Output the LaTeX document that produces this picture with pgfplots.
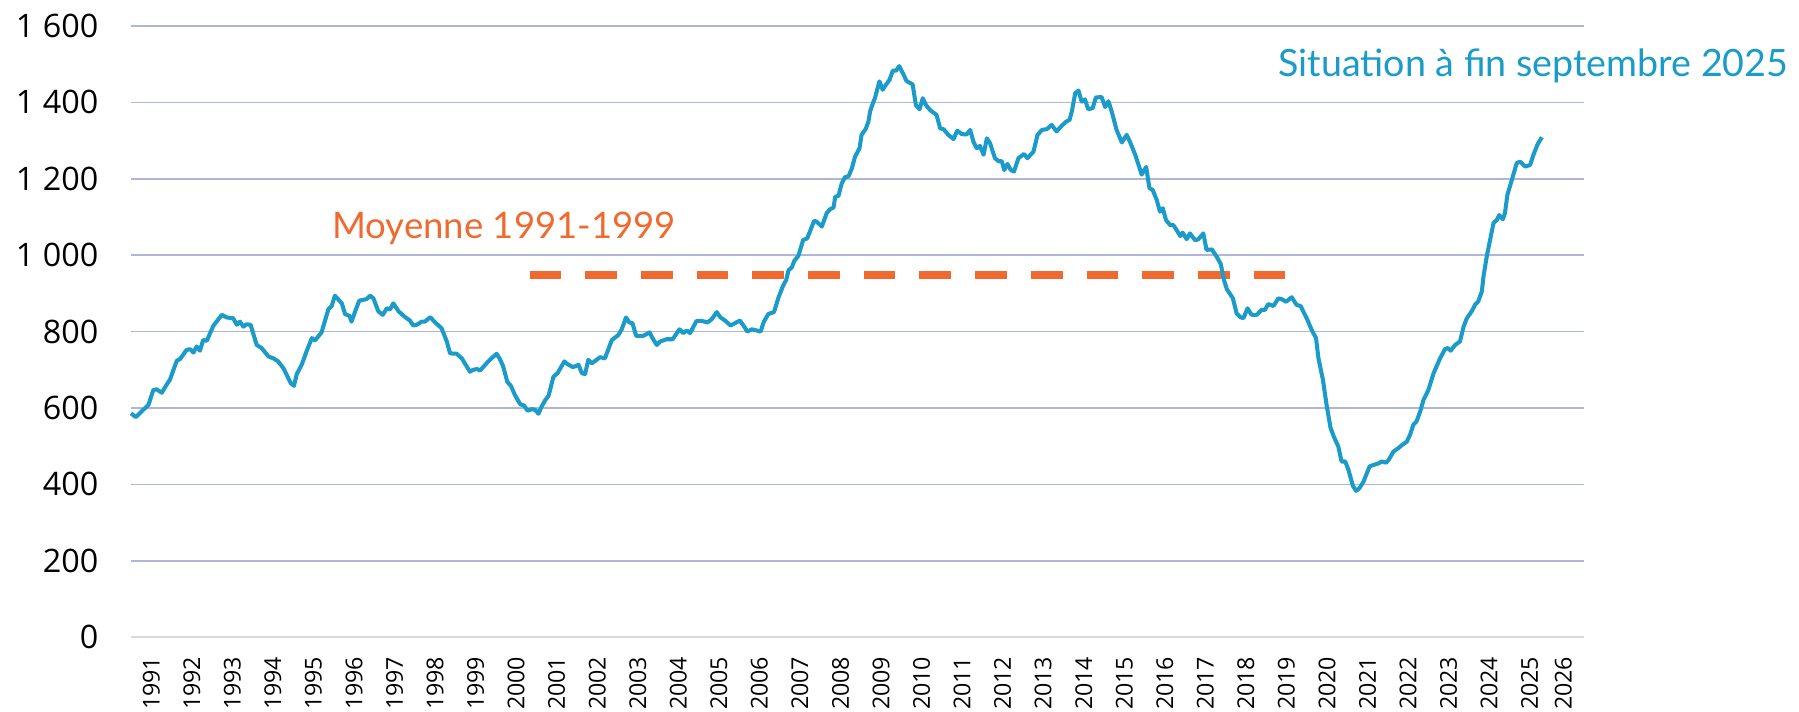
\documentclass[border=0pt]{standalone}
\usepackage{pgfplots}
\pgfplotsset{compat=1.18}
\usepackage{fontspec}
\setmainfont{Open Sans}
\newfontfamily\annotfont{Lato}
\definecolor{lineblue}{RGB}{26,155,201}
\definecolor{avgorange}{RGB}{240,106,48}
\definecolor{gridlav}{RGB}{176,182,218}
\definecolor{basegray}{RGB}{217,217,217}
\begin{document}
\begin{tikzpicture}
\begin{axis}[
    name=ax,
    scale only axis,
    width=145.3mm, height=61.12mm,
    xmin=1991, xmax=2026.84,
    ymin=0, ymax=1600,
    clip=false,
    axis x line*=bottom,
    axis y line*=left,
    x axis line style={draw=basegray, line width=0.5pt},
    y axis line style={draw=none},
    ytick={0,200,...,1600},
    ymajorgrids,
    major grid style={draw=gridlav, line width=0.45pt},
    major tick length=0pt,
    xtick={1991.5,1992.5,...,2025.5},
    xticklabels={1991,1992,1993,1994,1995,1996,1997,1998,1999,2000,2001,2002,2003,2004,2005,2006,2007,2008,2009,2010,2011,2012,2013,2014,2015,2016,2017,2018,2019,2020,2021,2022,2023,2024,2025},
    extra x ticks={2026.33},
    extra x tick labels={2026},
    xticklabel style={rotate=90, anchor=east, inner sep=0pt, font=\fontsize{6.6}{7.5}\selectfont},
    xticklabel shift=1.9mm,
    yticklabel style={anchor=east, inner sep=0pt, font=\fontsize{9.2}{11}\selectfont},
    yticklabel shift=3.2mm,
    /pgf/number format/1000 sep={\ },
    /pgf/number format/assume math mode=true,
]
\addplot[avgorange, line width=2.3pt, dash pattern=on 3.17mm off 2.4mm] coordinates {(2000.83,948) (2019.57,948)};
\addplot[lineblue, line width=1.15pt, line join=round] coordinates {
(1991.00,586) (1991.12,576) (1991.30,595) (1991.43,608) (1991.55,647) (1991.63,649) (1991.76,640) (1991.88,661) (1991.96,674)
(1992.13,724) (1992.21,728) (1992.37,752) (1992.46,754) (1992.54,745) (1992.62,761) (1992.70,750) (1992.78,778) (1992.87,776)
(1993.03,815) (1993.24,844) (1993.36,837) (1993.52,835) (1993.61,818) (1993.69,826) (1993.77,813) (1993.85,819) (1993.95,818)
(1994.10,765) (1994.22,757) (1994.39,735) (1994.51,730) (1994.63,722) (1994.76,704) (1994.84,687) (1994.94,665)
(1995.02,658) (1995.09,689) (1995.21,713) (1995.33,748) (1995.46,783) (1995.54,777) (1995.70,798) (1995.87,859) (1995.95,867)
(1996.03,894) (1996.20,874) (1996.28,846) (1996.39,841) (1996.44,826) (1996.53,853) (1996.63,881) (1996.81,885) (1996.90,894) (1996.98,887)
(1997.10,853) (1997.21,844) (1997.31,861) (1997.39,858) (1997.47,874) (1997.60,853) (1997.76,838) (1997.88,829) (1997.96,816)
(1998.05,818) (1998.17,826) (1998.25,826) (1998.38,838) (1998.50,824) (1998.66,809) (1998.79,774) (1998.87,743)
(1999.03,742) (1999.16,730) (1999.28,709) (1999.36,695) (1999.44,700) (1999.54,702) (1999.61,698) (1999.77,717) (1999.89,730)
(2000.02,742) (2000.10,728) (2000.18,709) (2000.28,669) (2000.37,658) (2000.47,634) (2000.60,610) (2000.70,606) (2000.78,593) (2000.89,597) (2000.97,595)
(2001.05,585) (2001.13,604) (2001.22,621) (2001.30,632) (2001.42,682) (2001.52,691) (2001.69,722) (2001.75,716) (2001.90,707)
(2002.04,713) (2002.12,691) (2002.20,689) (2002.28,726) (2002.37,717) (2002.57,733) (2002.69,730) (2002.86,778)
(2003.02,791) (2003.10,805) (2003.21,837) (2003.29,824) (2003.37,822) (2003.46,789) (2003.64,789) (2003.79,798) (2003.88,780) (2003.97,765)
(2004.05,774) (2004.21,780) (2004.36,780) (2004.53,806) (2004.62,796) (2004.71,803) (2004.79,796) (2004.95,828)
(2005.08,828) (2005.22,824) (2005.32,832) (2005.45,851) (2005.53,838) (2005.65,829) (2005.79,816)
(2006.02,829) (2006.15,809) (2006.20,800) (2006.31,806) (2006.43,803) (2006.53,800) (2006.61,826) (2006.72,846) (2006.86,851) (2006.97,889)
(2007.08,919) (2007.16,935) (2007.22,961) (2007.30,968) (2007.36,985) (2007.46,998) (2007.58,1040) (2007.68,1044) (2007.85,1090) (2007.91,1088)
(2008.04,1075) (2008.16,1110) (2008.24,1120) (2008.33,1125) (2008.37,1153) (2008.45,1155) (2008.53,1188) (2008.61,1204) (2008.70,1207) (2008.78,1227) (2008.86,1258) (2008.97,1280)
(2009.02,1315) (2009.12,1330) (2009.19,1350) (2009.23,1376) (2009.30,1398) (2009.35,1411) (2009.46,1455) (2009.54,1433) (2009.62,1446) (2009.71,1459) (2009.79,1483) (2009.87,1483) (2009.95,1495)
(2010.05,1474) (2010.13,1456) (2010.28,1447) (2010.36,1393) (2010.45,1382) (2010.53,1411) (2010.61,1393) (2010.71,1380) (2010.87,1367) (2010.96,1332)
(2011.04,1330) (2011.16,1315) (2011.29,1304) (2011.38,1326) (2011.49,1317) (2011.61,1316) (2011.70,1328) (2011.78,1297) (2011.86,1280) (2011.94,1286)
(2012.03,1263) (2012.11,1306) (2012.19,1293) (2012.31,1254) (2012.40,1246) (2012.48,1246) (2012.54,1223) (2012.62,1239) (2012.70,1223) (2012.78,1219) (2012.89,1254)
(2013.03,1265) (2013.11,1254) (2013.26,1271) (2013.36,1315) (2013.47,1328) (2013.59,1330) (2013.71,1341) (2013.83,1324) (2013.96,1339)
(2014.07,1350) (2014.15,1354) (2014.21,1378) (2014.29,1424) (2014.37,1431) (2014.45,1402) (2014.53,1408) (2014.61,1382) (2014.72,1385) (2014.80,1413) (2014.94,1414)
(2015.03,1388) (2015.11,1403) (2015.19,1376) (2015.31,1328) (2015.44,1295) (2015.56,1315) (2015.64,1297) (2015.77,1263) (2015.85,1237) (2015.93,1211)
(2016.04,1231) (2016.12,1176) (2016.20,1171) (2016.30,1145) (2016.38,1114) (2016.45,1123) (2016.53,1092) (2016.63,1079) (2016.71,1079) (2016.79,1066) (2016.88,1050) (2016.94,1059)
(2017.04,1042) (2017.12,1057) (2017.25,1039) (2017.33,1042) (2017.45,1057) (2017.53,1014) (2017.66,1015) (2017.78,996) (2017.88,977) (2017.96,935)
(2018.03,911) (2018.18,887) (2018.27,848) (2018.36,838) (2018.44,835) (2018.54,861) (2018.64,844) (2018.77,844) (2018.89,857) (2018.97,857)
(2019.05,872) (2019.18,867) (2019.30,887) (2019.38,885) (2019.49,878) (2019.63,890) (2019.75,870) (2019.85,867)
(2020.00,835) (2020.12,805) (2020.23,783) (2020.29,730) (2020.40,674) (2020.49,608) (2020.59,547) (2020.67,525) (2020.78,499) (2020.86,460) (2020.95,460)
(2021.03,438) (2021.14,396) (2021.22,383) (2021.30,390) (2021.40,407) (2021.55,447) (2021.65,451) (2021.77,455) (2021.85,460) (2021.96,457)
(2022.02,464) (2022.14,486) (2022.26,495) (2022.35,503) (2022.47,512) (2022.55,530) (2022.63,556) (2022.71,565) (2022.80,591) (2022.88,621)
(2023.00,647) (2023.13,691) (2023.29,730) (2023.41,754) (2023.48,757) (2023.55,750) (2023.66,765) (2023.78,774) (2023.87,813) (2023.95,835)
(2024.07,853) (2024.15,870) (2024.23,879) (2024.32,905) (2024.36,944) (2024.44,996) (2024.54,1049) (2024.61,1085) (2024.69,1092) (2024.75,1105) (2024.84,1094) (2024.89,1110) (2024.95,1158)
(2025.06,1197) (2025.18,1241) (2025.26,1245) (2025.39,1232) (2025.51,1236) (2025.59,1262) (2025.69,1289) (2025.80,1309)
};
\node[anchor=base west, inner sep=0pt, text=avgorange, font=\annotfont\fontsize{10.4}{12}\selectfont] at (axis cs:1995.95,1045) {Moyenne 1991-1999};
\node[anchor=base west, inner sep=0pt, text=lineblue, font=\annotfont\fontsize{10.7}{12}\selectfont] at (axis cs:2019.29,1469) {Situation à fin septembre 2025};
\end{axis}
\path[use as bounding box] ([xshift=-13.1mm,yshift=-7.4mm]ax.south west) rectangle ([xshift=21.5mm,yshift=2.6mm]ax.north east);
\end{tikzpicture}
\end{document}
